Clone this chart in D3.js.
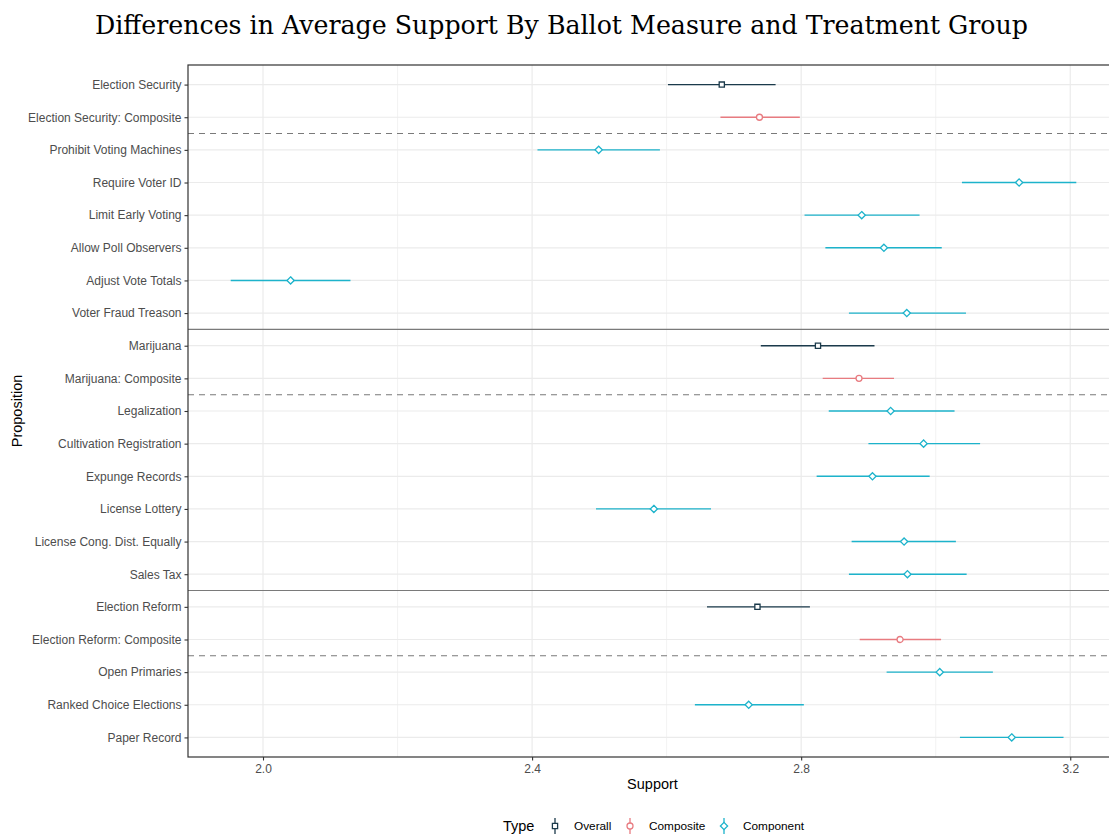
<!DOCTYPE html>
<html>
<head>
<meta charset="utf-8">
<script src="https://cdn.jsdelivr.net/npm/d3@7"></script>
<style>
  body { margin: 0; background: #fff; }
  text { font-family: "Liberation Sans", Arial, sans-serif; }
</style>
</head>
<body>
<div class="container"></div>
<script>
// data
const propositions = [
  'Election Security', 'Election Security: Composite', 'Prohibit Voting Machines',
  'Require Voter ID', 'Limit Early Voting', 'Allow Poll Observers', 'Adjust Vote Totals',
  'Voter Fraud Treason', 'Marijuana', 'Marijuana: Composite', 'Legalization',
  'Cultivation Registration', 'Expunge Records', 'License Lottery',
  'License Cong. Dist. Equally', 'Sales Tax', 'Election Reform',
  'Election Reform: Composite', 'Open Primaries', 'Ranked Choice Elections', 'Paper Record'
]
const types = [
  'Overall', 'Composite', 'Component', 'Component', 'Component', 'Component', 'Component',
  'Component', 'Overall', 'Composite', 'Component', 'Component', 'Component', 'Component',
  'Component', 'Component', 'Overall', 'Composite', 'Component', 'Component', 'Component'
]
const estimates = [2.682, 2.738, 2.499, 3.124, 2.890, 2.923, 2.041, 2.957, 2.825, 2.886, 2.933,
  2.982, 2.906, 2.581, 2.953, 2.958, 2.735, 2.947, 3.006, 2.722, 3.113]
const lower = [2.602, 2.680, 2.408, 3.039, 2.805, 2.836, 1.952, 2.871, 2.740, 2.832, 2.841,
  2.900, 2.823, 2.495, 2.875, 2.871, 2.660, 2.887, 2.927, 2.642, 3.036]
const upper = [2.762, 2.798, 2.590, 3.209, 2.976, 3.009, 2.130, 3.045, 2.909, 2.938, 3.028,
  3.066, 2.991, 2.666, 3.030, 3.046, 2.813, 3.008, 3.085, 2.804, 3.190]
const typeNames = ['Overall', 'Composite', 'Component']
const xTicks = [2.0, 2.4, 2.8, 3.2]
const xMinor = [2.2, 2.6, 3.0]
// separators: dashed after composite rows, solid between measures
const dashedAfter = ['Election Security: Composite', 'Marijuana: Composite', 'Election Reform: Composite']
const solidAfter = ['Voter Fraud Treason', 'Sales Tax']

const rows = propositions.map((p, i) => ({p, type: types[i], est: estimates[i], lo: lower[i], hi: upper[i]}))

const W = 1109, H = 835
const m = {left: 188, right: 1117, top: 65, bottom: 757}

const svg = d3.select('.container').append('svg')
  .attr('width', W).attr('height', H)

const color = d3.scaleOrdinal().domain(typeNames).range(['#1b3a4b', '#e87b80', '#1db3cb'])

const x = d3.scaleLinear().domain([1.8885, 3.2695]).range([m.left, m.right])
// discrete axis with 0.6 expansion like ggplot
const y = d3.scaleLinear().domain([-0.6, propositions.length - 1 + 0.6]).range([m.top, m.bottom])
const yOf = p => y(propositions.indexOf(p))

// grid
const grid = svg.append('g')
grid.selectAll('.minor').data(xMinor).join('line')
  .attr('x1', d => x(d)).attr('x2', d => x(d))
  .attr('y1', m.top).attr('y2', m.bottom)
  .attr('stroke', '#ebebeb').attr('stroke-width', 0.6)
grid.selectAll('.vmaj').data(xTicks).join('line')
  .attr('x1', d => x(d)).attr('x2', d => x(d))
  .attr('y1', m.top).attr('y2', m.bottom)
  .attr('stroke', '#ebebeb').attr('stroke-width', 1.2)
grid.selectAll('.hmaj').data(propositions).join('line')
  .attr('x1', m.left).attr('x2', m.right)
  .attr('y1', d => yOf(d)).attr('y2', d => yOf(d))
  .attr('stroke', '#ebebeb').attr('stroke-width', 1.2)

// separators
svg.append('g').selectAll('line').data(dashedAfter).join('line')
  .attr('x1', m.left).attr('x2', m.right)
  .attr('y1', d => yOf(d) + (y(1) - y(0)) / 2).attr('y2', d => yOf(d) + (y(1) - y(0)) / 2)
  .attr('stroke', '#7a7a7a').attr('stroke-width', 1.1).attr('stroke-dasharray', '6,5')
svg.append('g').selectAll('line').data(solidAfter).join('line')
  .attr('x1', m.left).attr('x2', m.right)
  .attr('y1', d => yOf(d) + (y(1) - y(0)) / 2).attr('y2', d => yOf(d) + (y(1) - y(0)) / 2)
  .attr('stroke', '#7a7a7a').attr('stroke-width', 1.1)

// error bars
svg.append('g').selectAll('line').data(rows).join('line')
  .attr('x1', d => x(d.lo)).attr('x2', d => x(d.hi))
  .attr('y1', d => yOf(d.p)).attr('y2', d => yOf(d.p))
  .attr('stroke', d => color(d.type)).attr('stroke-width', 1.4)

// point shapes: square, circle, diamond (open)
function shapePath(type, cx, cy) {
  const p = d3.path()
  if (type === 'Overall') {
    p.rect(cx - 2.6, cy - 2.6, 5.2, 5.2)
  } else if (type === 'Composite') {
    p.moveTo(cx + 3, cy); p.arc(cx, cy, 3, 0, Math.PI * 2)
  } else {
    p.moveTo(cx, cy - 3.6); p.lineTo(cx + 3.6, cy); p.lineTo(cx, cy + 3.6); p.lineTo(cx - 3.6, cy); p.closePath()
  }
  return p.toString()
}
svg.append('g').selectAll('path').data(rows).join('path')
  .attr('d', d => shapePath(d.type, x(d.est), yOf(d.p)))
  .attr('fill', '#fff').attr('stroke', d => color(d.type)).attr('stroke-width', 1.3)

// panel border
svg.append('rect')
  .attr('x', m.left).attr('y', m.top)
  .attr('width', m.right - m.left).attr('height', m.bottom - m.top)
  .attr('fill', 'none').attr('stroke', '#333').attr('stroke-width', 1.2)

// axes
const xAxis = svg.append('g').attr('transform', `translate(0,${m.bottom})`)
  .call(d3.axisBottom(x).tickValues(xTicks).tickFormat(d3.format('.1f')).tickSize(3.5).tickPadding(4))
const yAxis = svg.append('g').attr('transform', `translate(${m.left},0)`)
  .call(d3.axisLeft(y).tickValues(d3.range(propositions.length)).tickFormat(i => propositions[i]).tickSize(3.5).tickPadding(3))
;[xAxis, yAxis].forEach(a => {
  a.select('.domain').remove()
  a.selectAll('.tick line').attr('stroke', '#333').attr('stroke-width', 1.1)
  a.selectAll('.tick text').attr('fill', '#4d4d4d').style('font-size', '12px')
    .style('font-family', '"Liberation Sans", Arial, sans-serif')
})

// axis titles
svg.append('text').attr('x', (m.left + m.right) / 2).attr('y', 789)
  .attr('text-anchor', 'middle').style('font-size', '14.5px').attr('fill', '#000').text('Support')
svg.append('text').attr('transform', `translate(22,${(m.top + m.bottom) / 2}) rotate(-90)`)
  .attr('text-anchor', 'middle').style('font-size', '14.5px').attr('fill', '#000').text('Proposition')

// title
svg.append('text').attr('x', 561.5).attr('y', 34)
  .attr('text-anchor', 'middle')
  .style('font-family', '"DejaVu Serif", "Liberation Serif", serif')
  .style('font-size', '26px')
  .attr('textLength', 933).attr('lengthAdjust', 'spacingAndGlyphs')
  .text('Differences in Average Support By Ballot Measure and Treatment Group')

// legend
const leg = svg.append('g').attr('transform', 'translate(0,826)')
leg.append('text').attr('x', 503).attr('y', 5).style('font-size', '14.5px').text('Type')
const keyX = [555, 630, 724]
const keys = leg.selectAll('.key').data(typeNames).join('g')
  .attr('transform', (d, i) => `translate(${keyX[i]},0)`)
keys.append('line').attr('x1', 0).attr('x2', 0).attr('y1', -8).attr('y2', 8)
  .attr('stroke', d => color(d)).attr('stroke-width', 1.3)
keys.append('path').attr('d', d => shapePath(d, 0, 0))
  .attr('fill', '#fff').attr('stroke', d => color(d)).attr('stroke-width', 1.3)
keys.append('text').attr('x', 19).attr('y', 4).style('font-size', '11.8px').attr('fill', '#000').text(d => d)
</script>
</body>
</html>
